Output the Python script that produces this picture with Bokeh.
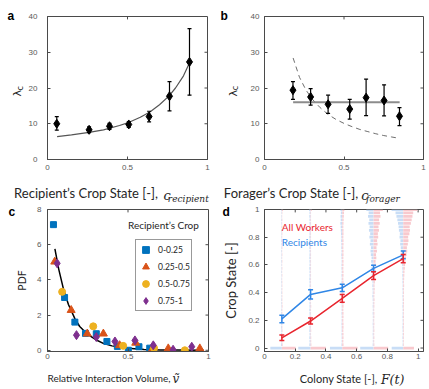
import math
from bokeh.plotting import figure
from bokeh.models import Label, LinearAxis, FixedTicker
from bokeh.layouts import column, row
from bokeh.embed import file_html
from bokeh.resources import INLINE

# ---------------- data ----------------
# panel a
A_X = [0.058, 0.26, 0.3875, 0.508, 0.635, 0.7625, 0.8875]
A_Y = [10.0, 8.3, 9.3, 9.8, 12.0, 17.7, 27.3]
A_LO = [8.2, 7.5, 8.45, 9.0, 10.5, 13.6, 18.0]
A_HI = [12.0, 9.1, 10.1, 10.6, 13.5, 21.8, 36.6]
A_FIT_X = [0.06, 0.15, 0.26, 0.35, 0.45, 0.51, 0.58, 0.64, 0.70, 0.76, 0.80, 0.85, 0.89]
A_FIT_Y = [6.4, 6.9, 7.6, 8.3, 9.5, 10.4, 11.8, 13.3, 15.3, 17.8, 20.0, 23.4, 27.3]

# panel b
B_X = [0.179, 0.29, 0.40, 0.536, 0.639, 0.752, 0.849]
B_Y = [19.4, 17.5, 15.45, 14.1, 17.3, 16.5, 12.1]
B_LO = [16.8, 15.2, 12.9, 11.3, 12.3, 12.2, 9.5]
B_HI = [21.8, 19.8, 18.0, 16.8, 22.5, 20.9, 14.5]
B_FLAT_X = [0.18, 0.85]
B_FLAT_Y = [16.0, 16.0]
B_DASH_X = [0.18, 0.22, 0.26, 0.30, 0.35, 0.40, 0.45, 0.50, 0.55, 0.60, 0.65, 0.70, 0.75, 0.80, 0.85]
B_DASH_Y = [28.4, 23.0, 19.5, 16.9, 14.5, 12.6, 11.2, 10.1, 9.2, 8.4, 7.8, 7.2, 6.7, 6.3, 5.9]

# panel c
C_Q1_X = [0.037, 0.106, 0.17, 0.236, 0.303, 0.369, 0.434, 0.502, 0.568, 0.635]
C_Q1_Y = [7.14, 3.0, 1.6, 0.96, 0.94, 0.5, 0.22, 0.0, 0.2, 0.12]
C_Q2_X = [0.045, 0.147, 0.247, 0.347, 0.448, 0.548, 0.647, 0.75, 0.946]
C_Q2_Y = [5.03, 2.28, 0.94, 0.94, 0.28, 0.42, 0.0, 0.1, 0.1]
C_Q3_X = [0.091, 0.284, 0.47, 0.662, 0.853]
C_Q3_Y = [3.32, 1.36, 0.25, 0.12, 0.0]
C_Q4_X = [0.06, 0.18, 0.303, 0.419, 0.543, 0.657, 0.78, 0.896]
C_Q4_Y = [4.94, 0.86, 0.75, 0.5, 0.56, 0.28, 0.03, 0.2]
C_FIT_X = [0.046, 0.07, 0.1, 0.13, 0.17, 0.2, 0.25, 0.3, 0.35, 0.4, 0.5, 0.6, 0.7, 0.8, 0.97]
C_FIT_Y = [5.76, 4.6, 3.45, 2.6, 1.8, 1.35, 0.9, 0.6, 0.38, 0.25, 0.11, 0.05, 0.02, 0.01, 0.0]
C_LABELS = ["0-0.25", "0.25-0.5", "0.5-0.75", "0.75-1"]

# panel d
D_COLONY = [0.113, 0.30, 0.506, 0.71, 0.903]
D_ALL = [0.074, 0.195, 0.358, 0.522, 0.645]
D_ALL_ERR = [0.02, 0.022, 0.028, 0.028, 0.03]
D_REC = [0.21, 0.387, 0.435, 0.575, 0.672]
D_REC_ERR = [0.027, 0.033, 0.026, 0.022, 0.028]
CROP_BINS = [0.0, 0.025, 0.05, 0.075, 0.1, 0.125, 0.15, 0.175, 0.2, 0.225, 0.25,
             0.275, 0.3, 0.325, 0.35, 0.375, 0.4, 0.425, 0.45, 0.475, 0.5,
             0.525, 0.55, 0.575, 0.6, 0.625, 0.65, 0.675, 0.7, 0.725, 0.75,
             0.775, 0.8, 0.825, 0.85, 0.875, 0.9, 0.925, 0.95, 0.975, 1.0]
H_REC = [
    [0.075, 0.006, 0.005, 0.005, 0.006, 0.004, 0.005, 0.004, 0.004, 0.005, 0.004, 0.004, 0.003, 0.004,
     0.004, 0.003, 0.004, 0.003, 0.003, 0.004, 0.003, 0.003, 0.004, 0.003, 0.003, 0.004, 0.003, 0.003,
     0.004, 0.003, 0.003, 0.004, 0.003, 0.003, 0.004, 0.003, 0.003, 0.004, 0.003, 0.003, 0.005],
    [0.08, 0.008, 0.007, 0.008, 0.007, 0.008, 0.007, 0.007, 0.008, 0.007, 0.007, 0.008, 0.007, 0.007,
     0.008, 0.007, 0.007, 0.008, 0.007, 0.007, 0.008, 0.007, 0.007, 0.008, 0.007, 0.007, 0.008, 0.007,
     0.007, 0.008, 0.007, 0.007, 0.008, 0.007, 0.007, 0.008, 0.007, 0.007, 0.008, 0.007, 0.01],
    [0.08, 0.005, 0.004, 0.004, 0.005, 0.004, 0.004, 0.005, 0.004, 0.004, 0.005, 0.004, 0.004, 0.005,
     0.004, 0.004, 0.005, 0.004, 0.004, 0.005, 0.004, 0.005, 0.004, 0.005, 0.005, 0.004, 0.005, 0.006,
     0.005, 0.006, 0.006, 0.007, 0.006, 0.008, 0.009, 0.01, 0.012, 0.01, 0.011, 0.009, 0.012],
    [0.087, 0.006, 0.005, 0.005, 0.006, 0.005, 0.005, 0.006, 0.005, 0.005, 0.006, 0.005, 0.006, 0.005,
     0.006, 0.008, 0.006, 0.007, 0.008, 0.007, 0.01, 0.012, 0.009, 0.014, 0.012, 0.016, 0.013, 0.018,
     0.02, 0.017, 0.024, 0.02, 0.027, 0.022, 0.03, 0.026, 0.033, 0.028, 0.036, 0.032, 0.047],
    [0.075, 0.004, 0.004, 0.005, 0.004, 0.004, 0.005, 0.004, 0.004, 0.005, 0.004, 0.004, 0.005, 0.004,
     0.004, 0.005, 0.004, 0.005, 0.004, 0.005, 0.005, 0.006, 0.005, 0.006, 0.007, 0.008, 0.01, 0.012,
     0.014, 0.016, 0.02, 0.018, 0.024, 0.022, 0.028, 0.03, 0.034, 0.038, 0.044, 0.05, 0.076],
]
H_ALL = [
    [0.09, 0.005, 0.004, 0.004, 0.003, 0.004, 0.003, 0.003, 0.004, 0.003, 0.003, 0.003, 0.004, 0.003,
     0.003, 0.003, 0.003, 0.003, 0.003, 0.003, 0.002, 0.003, 0.002, 0.003, 0.002, 0.003, 0.002, 0.003,
     0.002, 0.003, 0.002, 0.003, 0.002, 0.003, 0.002, 0.003, 0.002, 0.003, 0.002, 0.003, 0.008],
    [0.1, 0.005, 0.004, 0.004, 0.003, 0.004, 0.003, 0.004, 0.003, 0.004, 0.003, 0.003, 0.004, 0.003,
     0.003, 0.004, 0.003, 0.003, 0.003, 0.003, 0.003, 0.003, 0.003, 0.003, 0.003, 0.003, 0.003, 0.003,
     0.003, 0.003, 0.003, 0.003, 0.003, 0.003, 0.003, 0.003, 0.003, 0.003, 0.003, 0.003, 0.008],
    [0.1, 0.008, 0.007, 0.008, 0.008, 0.007, 0.008, 0.008, 0.007, 0.008, 0.008, 0.007, 0.008, 0.008,
     0.007, 0.008, 0.008, 0.007, 0.008, 0.008, 0.007, 0.008, 0.008, 0.007, 0.008, 0.008, 0.007, 0.008,
     0.008, 0.007, 0.008, 0.008, 0.007, 0.008, 0.008, 0.007, 0.008, 0.009, 0.01, 0.011, 0.014],
    [0.095, 0.005, 0.004, 0.005, 0.004, 0.005, 0.004, 0.005, 0.004, 0.005, 0.005, 0.004, 0.005, 0.005,
     0.006, 0.005, 0.006, 0.007, 0.006, 0.008, 0.01, 0.009, 0.012, 0.011, 0.015, 0.013, 0.018, 0.016,
     0.022, 0.019, 0.026, 0.023, 0.03, 0.028, 0.035, 0.032, 0.04, 0.036, 0.045, 0.042, 0.06],
    [0.07, 0.004, 0.004, 0.004, 0.005, 0.004, 0.004, 0.005, 0.004, 0.005, 0.004, 0.005, 0.004, 0.005,
     0.005, 0.004, 0.005, 0.005, 0.006, 0.005, 0.006, 0.007, 0.008, 0.01, 0.012, 0.014, 0.018, 0.022,
     0.026, 0.024, 0.03, 0.034, 0.032, 0.04, 0.044, 0.042, 0.05, 0.055, 0.06, 0.065, 0.093],
]

# ticks
AB_XTICKS = [0, 0.5, 1]
AB_XLABELS = ["0", "0.5", "1"]
AB_YTICKS = [0, 10, 20, 30, 40]
AB_YLABELS = ["0", "10", "20", "30", "40"]
C_YTICKS = [0, 2, 4, 6, 8]
C_YLABELS = ["0", "2", "4", "6", "8"]
D_TICKS = [0, 0.2, 0.4, 0.6, 0.8, 1]
D_LABELS = ["0", "0.2", "0.4", "0.6", "0.8", "1"]

# ---------------- style ----------------
TICK_FONT = "Liberation Sans"
LABEL_FONT = "Lato"
MATH_FONT = "DejaVu Serif"
LETTER_FONT = "Liberation Sans"
TICK_COLOR = "#595959"
AXIS_COLOR = "#4a4a4a"
TEXT_COLOR = "#262626"
BLUE = "#0072BD"
ORANGE = "#D95319"
YELLOW = "#EDB120"
PURPLE = "#7E2F8E"
RED_D = "#E8252E"
BLUE_D = "#2F86E6"
PALE_BLUE = "#C8DDF6"
PALE_PINK = "#F8C9CE"
NBSP = "\u00a0"
VERT = math.pi / 2


def make_fig(w, h, bl, br, bt, bb, xr, yr, xt, xl, yt, yl, xstand, ystand):
    p = figure(width=w, height=h, x_range=xr, y_range=yr, output_backend="svg",
               toolbar_location=None, min_border_left=bl, min_border_right=br,
               min_border_top=bt, min_border_bottom=bb)
    p.xgrid.visible = False
    p.ygrid.visible = False
    p.outline_line_color = AXIS_COLOR
    p.outline_line_width = 1
    p.background_fill_color = "white"
    p.border_fill_color = "white"
    for ax, t, l, s in ((p.xaxis[0], xt, xl, xstand), (p.yaxis[0], yt, yl, ystand)):
        ax.ticker = FixedTicker(ticks=t)
        ax.major_label_overrides = dict(zip(t, l))
        ax.major_tick_in = 3
        ax.major_tick_out = 0
        ax.minor_tick_line_color = None
        ax.axis_line_color = AXIS_COLOR
        ax.major_tick_line_color = AXIS_COLOR
        ax.major_label_text_font = TICK_FONT
        ax.major_label_text_font_size = "8px"
        ax.major_label_text_color = TICK_COLOR
        ax.major_label_standoff = s
    return p


def mirror_ticks(p, xt, yt, fw, fh, length=3):
    x0, x1 = p.x_range.start, p.x_range.end
    y0, y1 = p.y_range.start, p.y_range.end
    dy = length * (y1 - y0) / fh
    dx = length * (x1 - x0) / fw
    xs = [t for t in xt if x0 < t < x1]
    ys = [t for t in yt if y0 < t < y1]
    p.segment(x0=xs, y0=[y1] * len(xs), x1=xs, y1=[y1 - dy] * len(xs),
              line_color=AXIS_COLOR, line_width=1)
    p.segment(x0=[x1] * len(ys), y0=ys, x1=[x1 - dx] * len(ys), y1=ys,
              line_color=AXIS_COLOR, line_width=1)


def text_axis(p, side, ticks, labels, size, font=LABEL_FONT, style="normal", color=TEXT_COLOR,
              standoff=0, orientation="horizontal"):
    ax = LinearAxis(ticker=FixedTicker(ticks=ticks), major_label_overrides=dict(zip(ticks, labels)))
    ax.axis_line_color = None
    ax.major_tick_line_color = None
    ax.minor_tick_line_color = None
    ax.major_tick_in = 0
    ax.major_tick_out = 0
    ax.major_label_text_font = font
    ax.major_label_text_font_size = size
    ax.major_label_text_font_style = style
    ax.major_label_text_color = color
    ax.major_label_standoff = standoff
    ax.major_label_orientation = orientation
    p.add_layout(ax, side)


def panel_letter(p, text, offset, standoff):
    t = p.title
    t.text = text
    t.align = "left"
    t.offset = offset
    t.standoff = standoff
    t.text_font = LETTER_FONT
    t.text_font_size = "12px"
    t.text_font_style = "bold"
    t.text_color = "black"


def y_label(p, text, standoff, size="11px", font=LABEL_FONT):
    ax = p.yaxis[0]
    ax.axis_label = text
    ax.axis_label_text_font = font
    ax.axis_label_text_font_size = size
    ax.axis_label_text_font_style = "normal"
    ax.axis_label_text_color = TEXT_COLOR
    ax.axis_label_standoff = standoff


def add_text(p, xy, text, size="11px", font=LABEL_FONT, color=TEXT_COLOR, align="left"):
    p.add_layout(Label(x=xy[0], y=xy[1], text=text, text_font=font, text_font_size=size,
                       text_color=color, text_align=align, text_baseline="middle"))


def errorbars(p, xs, lo, hi, color, width=1.2, cap=4):
    p.segment(x0=xs, y0=lo, x1=xs, y1=hi, line_color=color, line_width=width)
    p.scatter(x=xs + xs, y=lo + hi, marker="dash", size=cap, line_color=color, line_width=width)


# ---------------- panel a ----------------
pa = make_fig(214, 206, 47, 7, 16, 43, (0, 1), (0, 40), AB_XTICKS, AB_XLABELS, AB_YTICKS, AB_YLABELS, 5, 10)
mirror_ticks(pa, AB_XTICKS, AB_YTICKS, 160, 147)
pa.line(A_FIT_X, A_FIT_Y, line_color="#555555", line_width=1.2)
errorbars(pa, A_X, A_LO, A_HI, "black")
pa.scatter(A_X, A_Y, marker="diamond", size=9, color="black")
y_label(pa, "λ" + NBSP * 3, 2, size="11px", font="DejaVu Sans")
text_axis(pa, "left", [20.5], ["c"], "8px", font="DejaVu Sans", standoff=-13, orientation=VERT)
panel_letter(pa, "a", -40, -12)
text_axis(pa, "below", [0.241], ["Recipient’s Crop State [-],"], "13px", standoff=12)
text_axis(pa, "below", [0.747], ["c"], "13px", font=MATH_FONT, style="italic", standoff=-16)
text_axis(pa, "below", [0.88], ["recipient"], "9px", font=MATH_FONT, style="italic", standoff=-12)

# ---------------- panel b ----------------
pb = make_fig(215, 206, 50, 6, 16, 43, (0, 1), (0, 40), AB_XTICKS, AB_XLABELS, AB_YTICKS, AB_YLABELS, 5, 5)
mirror_ticks(pb, AB_XTICKS, AB_YTICKS, 159, 147)
pb.line(B_DASH_X, B_DASH_Y, line_color="#6e6e6e", line_width=1, line_dash="5 4")
pb.line(B_FLAT_X, B_FLAT_Y, line_color="#8c8c8c", line_width=2)
errorbars(pb, B_X, B_LO, B_HI, "black")
pb.scatter(B_X, B_Y, marker="diamond", size=9, color="black")
y_label(pb, "λ" + NBSP * 3, 8, size="11px", font="DejaVu Sans")
text_axis(pb, "left", [20.6], ["c"], "8px", font="DejaVu Sans", standoff=-12, orientation=VERT)
panel_letter(pb, "b", -44, -12)
text_axis(pb, "below", [0.167], ["Forager’s Crop State [-],"], "13px", standoff=12)
text_axis(pb, "below", [0.632], ["c"], "13px", font=MATH_FONT, style="italic", standoff=-16)
text_axis(pb, "below", [0.745], ["forager"], "9px", font=MATH_FONT, style="italic", standoff=-12)

# ---------------- panel c ----------------
pc = make_fig(214, 183, 47, 6, 3, 33, (0, 1), (-0.07, 8), AB_XTICKS, AB_XLABELS, C_YTICKS, C_YLABELS, 2, 6)
mirror_ticks(pc, AB_XTICKS, C_YTICKS, 161, 147)
pc.line(C_FIT_X, C_FIT_Y, line_color="black", line_width=1.5)
pc.scatter(C_Q1_X, C_Q1_Y, marker="square", size=6, color=BLUE, legend_label=C_LABELS[0])
pc.scatter(C_Q2_X, C_Q2_Y, marker="triangle", size=8, color=ORANGE, legend_label=C_LABELS[1])
pc.scatter(C_Q3_X, C_Q3_Y, marker="circle", size=7, color=YELLOW, legend_label=C_LABELS[2])
pc.scatter(C_Q4_X, C_Q4_Y, marker="diamond", size=9, color=PURPLE, legend_label=C_LABELS[3])
y_label(pc, "PDF", 6, size="10.5px")
lg = pc.legend[0]
lg.location = (88, 40)
lg.border_line_color = "#333333"
lg.border_line_width = 1
lg.background_fill_color = "white"
lg.background_fill_alpha = 1
lg.label_text_font = LABEL_FONT
lg.label_text_font_size = "8.5px"
lg.label_text_color = TEXT_COLOR
lg.glyph_width = 17
lg.glyph_height = 17
lg.label_height = 16
lg.label_width = 28
lg.label_standoff = 4
lg.spacing = 0
lg.padding = 1
lg.margin = 0
add_text(pc, (0.72, 7.12), "Recipient’s Crop", size="10px", align="center")
panel_letter(pc, "c", -39, -18)
text_axis(pc, "below", [0.383], ["Relative Interaction Volume,"], "10px", standoff=10)
text_axis(pc, "below", [0.798], ["ṽ"], "12px", font=MATH_FONT, style="italic", standoff=-15)

# ---------------- panel d ----------------
pd_ = make_fig(215, 183, 50, 6, 3, 34, (0, 1.035), (-0.025, 1.0), D_TICKS, D_LABELS, D_TICKS, D_LABELS, 2, 5)
mirror_ticks(pd_, D_TICKS, D_TICKS, 159, 146)
for k, xg in enumerate(D_COLONY):
    pd_.hbar(y=CROP_BINS, left=[xg - v for v in H_REC[k]], right=[xg] * len(CROP_BINS),
             height=0.02, fill_color=PALE_BLUE, line_color=None)
    pd_.hbar(y=CROP_BINS, left=[xg] * len(CROP_BINS), right=[xg + v for v in H_ALL[k]],
             height=0.02, fill_color=PALE_PINK, line_color=None)
pd_.line(D_COLONY, D_REC, line_color=BLUE_D, line_width=1.5)
errorbars(pd_, D_COLONY, [m - e for m, e in zip(D_REC, D_REC_ERR)],
          [m + e for m, e in zip(D_REC, D_REC_ERR)], BLUE_D, width=1.5, cap=5)
pd_.line(D_COLONY, D_ALL, line_color=RED_D, line_width=1.5)
errorbars(pd_, D_COLONY, [m - e for m, e in zip(D_ALL, D_ALL_ERR)],
          [m + e for m, e in zip(D_ALL, D_ALL_ERR)], RED_D, width=1.5, cap=5)
y_label(pd_, "Crop State [-]", 6, size="13px")
add_text(pd_, (0.113, 0.876), "All Workers", size="10px", color=RED_D)
add_text(pd_, (0.113, 0.766), "Recipients", size="10px", color=BLUE_D)
panel_letter(pd_, "d", -42, -18)
text_axis(pd_, "below", [0.483], ["Colony State [-],"], "11px", standoff=10)
text_axis(pd_, "below", [0.834], ["F(t)"], "12.5px", font=MATH_FONT, style="italic", standoff=-16)

layout = column(row(pa, pb), row(pc, pd_))
open("out.html", "w").write(file_html(layout, INLINE))
